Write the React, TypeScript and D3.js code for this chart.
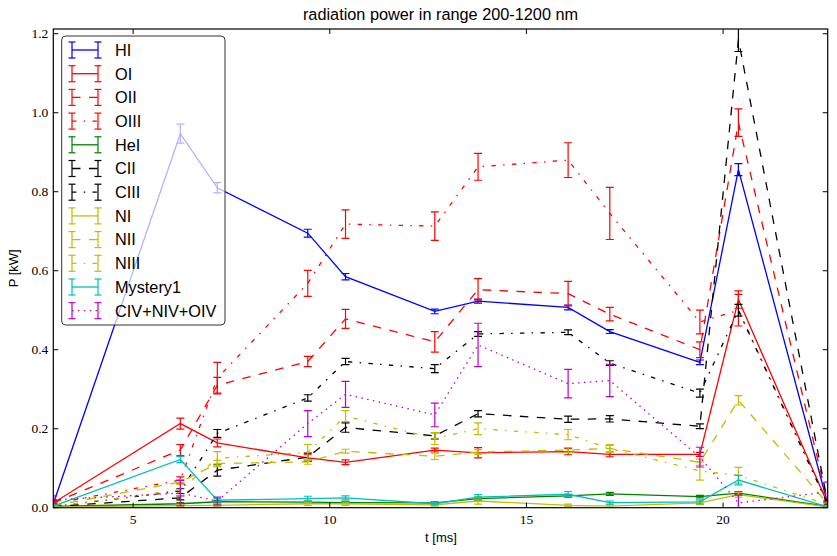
import React from "react";
import * as d3 from "d3";

const timeMs = [2.97, 6.2, 7.14, 9.44, 10.4, 12.67, 13.77, 16.06, 17.12, 19.41, 20.39, 22.66];

const seriesNames = ["HI", "OI", "OII", "OIII", "HeI", "CII", "CIII", "NI", "NII", "NIII", "Mystery1", "CIV+NIV+OIV"];

const HI = [0.01, 0.947, 0.81, 0.695, 0.585, 0.497, 0.523, 0.507, 0.446, 0.368, 0.856, 0.01];
const HI_err = [0.01, 0.024, 0.013, 0.01, 0.008, 0.006, 0.005, 0.006, 0.005, 0.006, 0.015, 0.005];

const OI = [0.012, 0.213, 0.164, 0.126, 0.115, 0.146, 0.139, 0.142, 0.135, 0.135, 0.527, 0.01];
const OI_err = [0.005, 0.014, 0.01, 0.008, 0.006, 0.005, 0.013, 0.008, 0.006, 0.005, 0.022, 0.005];

const OII = [0.012, 0.146, 0.31, 0.37, 0.478, 0.42, 0.552, 0.542, 0.49, 0.4, 0.975, 0.015];
const OII_err = [0.005, 0.014, 0.02, 0.013, 0.024, 0.026, 0.028, 0.031, 0.017, 0.02, 0.035, 0.005];

const OIII = [0.01, 0.07, 0.328, 0.568, 0.718, 0.713, 0.863, 0.88, 0.745, 0.47, 0.5, 0.012];
const OIII_err = [0.005, 0.008, 0.04, 0.033, 0.036, 0.036, 0.034, 0.044, 0.066, 0.03, 0.04, 0.005];

const HeI = [0.003, 0.01, 0.015, 0.014, 0.013, 0.012, 0.023, 0.03, 0.035, 0.028, 0.037, 0.003];
const HeI_err = [0.002, 0.003, 0.003, 0.003, 0.003, 0.003, 0.004, 0.004, 0.004, 0.003, 0.004, 0.002];

const CII = [0.003, 0.025, 0.095, 0.128, 0.203, 0.182, 0.238, 0.224, 0.225, 0.206, 1.185, 0.012];
const CII_err = [0.003, 0.005, 0.015, 0.01, 0.012, 0.008, 0.008, 0.008, 0.008, 0.006, 0.03, 0.005];

const CIII = [0.003, 0.042, 0.188, 0.278, 0.37, 0.352, 0.44, 0.444, 0.366, 0.29, 0.5, 0.008];
const CIII_err = [0.003, 0.006, 0.01, 0.008, 0.008, 0.01, 0.006, 0.006, 0.006, 0.01, 0.015, 0.004];

const NI = [0.002, 0.005, 0.006, 0.01, 0.01, 0.007, 0.017, 0.006, 0.004, 0.012, 0.033, 0.002];
const NI_err = [0.002, 0.003, 0.003, 0.004, 0.004, 0.003, 0.008, 0.003, 0.003, 0.004, 0.006, 0.002];

const NII = [0.005, 0.065, 0.112, 0.116, 0.143, 0.13, 0.141, 0.146, 0.15, 0.115, 0.272, 0.01];
const NII_err = [0.003, 0.006, 0.008, 0.006, 0.005, 0.008, 0.006, 0.006, 0.01, 0.008, 0.012, 0.004];

const NIII = [0.003, 0.045, 0.125, 0.14, 0.232, 0.175, 0.2, 0.185, 0.15, 0.093, 0.082, 0.008];
const NIII_err = [0.003, 0.015, 0.017, 0.02, 0.014, 0.015, 0.015, 0.013, 0.008, 0.023, 0.02, 0.004];

const Mystery1 = [0.004, 0.122, 0.019, 0.023, 0.025, 0.01, 0.027, 0.034, 0.013, 0.015, 0.07, 0.002];
const Mystery1_err = [0.003, 0.008, 0.004, 0.006, 0.005, 0.003, 0.006, 0.007, 0.004, 0.005, 0.012, 0.002];

const CIV = [0.02, 0.037, 0.017, 0.213, 0.287, 0.235, 0.412, 0.314, 0.322, 0.128, 0.012, 0.04];
const CIV_err = [0.01, 0.032, 0.01, 0.033, 0.033, 0.03, 0.055, 0.036, 0.041, 0.025, 0.02, 0.025];

const xTicks = [5, 10, 15, 20];
const yTicks = [0, 0.2, 0.4, 0.6, 0.8, 1.0, 1.2];

const DASHED = "8.5,8.5";
const DASHDOT = "4.4,7.3,1.5,7.3";
const DOTTED = "1.5,4.4";

const series = [
  { name: seriesNames[0], v: HI, e: HI_err, color: "#0000ff", dash: null },
  { name: seriesNames[1], v: OI, e: OI_err, color: "#ff0000", dash: null },
  { name: seriesNames[2], v: OII, e: OII_err, color: "#ff0000", dash: DASHED },
  { name: seriesNames[3], v: OIII, e: OIII_err, color: "#ff0000", dash: DASHDOT },
  { name: seriesNames[4], v: HeI, e: HeI_err, color: "#008000", dash: null },
  { name: seriesNames[5], v: CII, e: CII_err, color: "#000000", dash: DASHED },
  { name: seriesNames[6], v: CIII, e: CIII_err, color: "#000000", dash: DASHDOT },
  { name: seriesNames[7], v: NI, e: NI_err, color: "#bfbf00", dash: null },
  { name: seriesNames[8], v: NII, e: NII_err, color: "#bfbf00", dash: DASHED },
  { name: seriesNames[9], v: NIII, e: NIII_err, color: "#bfbf00", dash: DASHDOT },
  { name: seriesNames[10], v: Mystery1, e: Mystery1_err, color: "#00bfbf", dash: null },
  { name: seriesNames[11], v: CIV, e: CIV_err, color: "#bf00bf", dash: DOTTED },
];

const W = 837;
const H = 556;
const L = 53.3;
const R = 827.7;
const T = 29;
const B = 507.7;

export default function App() {
  const x = d3.scaleLinear().domain([2.97, 22.66]).range([L, R]);
  const y = d3.scaleLinear().domain([0, 1.212]).range([B, T]);
  const line = d3
    .line<number>()
    .x((_, i) => x(timeMs[i]))
    .y((d) => y(d));
  const cap = 4;
  const lw = 1.3;

  const legX = 61.7;
  const legY = 36;
  const legW = 163.3;
  const legH = 289;
  const rowH = 23.7;

  return (
    <svg
      width={W}
      height={H}
      style={{ position: "absolute", left: 0, top: 0, background: "#fff" }}
      fontFamily="'Liberation Sans', Arial, sans-serif"
    >
      <rect x={0} y={0} width={W} height={H} fill="#fff" />
      <defs>
        <clipPath id="plotclip">
          <rect x={L} y={T} width={R - L} height={B - T} />
        </clipPath>
      </defs>
      <g clipPath="url(#plotclip)">
        {series.map((s) => (
          <g key={s.name}>
            <path
              d={line(s.v) || ""}
              fill="none"
              stroke={s.color}
              strokeWidth={lw}
              strokeDasharray={s.dash || undefined}
            />
            {s.v.map((v, i) => {
              const cx = x(timeMs[i]);
              const y1 = y(v - s.e[i]);
              const y2 = y(v + s.e[i]);
              return (
                <g key={i} stroke={s.color} strokeWidth={1.2}>
                  <line x1={cx} x2={cx} y1={y1} y2={y2} />
                  <line x1={cx - cap} x2={cx + cap} y1={y1} y2={y1} />
                  <line x1={cx - cap} x2={cx + cap} y1={y2} y2={y2} />
                </g>
              );
            })}
          </g>
        ))}
      </g>

      <rect x={L} y={T} width={R - L} height={B - T} fill="none" stroke="#000" strokeWidth={1.2} />
      {xTicks.map((t) => (
        <g key={"xt" + t} stroke="#000" strokeWidth={1}>
          <line x1={x(t)} x2={x(t)} y1={B} y2={B - 5} />
          <line x1={x(t)} x2={x(t)} y1={T} y2={T + 5} />
        </g>
      ))}
      {yTicks.map((t) => (
        <g key={"yt" + t} stroke="#000" strokeWidth={1}>
          <line x1={L} x2={L + 5} y1={y(t)} y2={y(t)} />
          <line x1={R} x2={R - 5} y1={y(t)} y2={y(t)} />
        </g>
      ))}
      {xTicks.map((t) => (
        <text
          key={"xl" + t}
          x={x(t)}
          y={B + 16}
          textAnchor="middle"
          fontFamily="'Liberation Serif', 'DejaVu Serif', serif"
          fontSize={13.5}
        >
          {t}
        </text>
      ))}
      {yTicks.map((t) => (
        <text
          key={"yl" + t}
          x={L - 5}
          y={y(t) + 4.5}
          textAnchor="end"
          fontFamily="'Liberation Serif', 'DejaVu Serif', serif"
          fontSize={13.5}
        >
          {t.toFixed(1)}
        </text>
      ))}

      <text x={(L + R) / 2} y={20} textAnchor="middle" fontSize={16.3}>
        radiation power in range 200-1200 nm
      </text>
      <text x={441} y={542} textAnchor="middle" fontSize={13}>
        t [ms]
      </text>
      <text
        transform={`translate(18, ${(T + B) / 2}) rotate(-90)`}
        textAnchor="middle"
        fontSize={13}
      >
        P [kW]
      </text>

      <rect
        x={legX}
        y={legY}
        width={legW}
        height={legH}
        rx={4}
        ry={4}
        fill="#fff"
        fillOpacity={0.7}
        stroke="#333"
        strokeWidth={1}
      />
      {series.map((s, i) => {
        const cy = legY + 14 + i * rowH;
        const hx1 = 72;
        const hx2 = 98;
        return (
          <g key={"lg" + s.name}>
            <line
              x1={hx1}
              x2={hx2}
              y1={cy}
              y2={cy}
              stroke={s.color}
              strokeWidth={lw}
              strokeDasharray={s.dash || undefined}
            />
            {[hx1, hx2].map((hx) => (
              <g key={hx} stroke={s.color} strokeWidth={1.2}>
                <line x1={hx} x2={hx} y1={cy - 8} y2={cy + 8} />
                <line x1={hx - 3.5} x2={hx + 3.5} y1={cy - 8} y2={cy - 8} />
                <line x1={hx - 3.5} x2={hx + 3.5} y1={cy + 8} y2={cy + 8} />
              </g>
            ))}
            <text x={115} y={cy + 5.8} fontSize={16.3} fill="#000">
              {s.name}
            </text>
          </g>
        );
      })}
    </svg>
  );
}
